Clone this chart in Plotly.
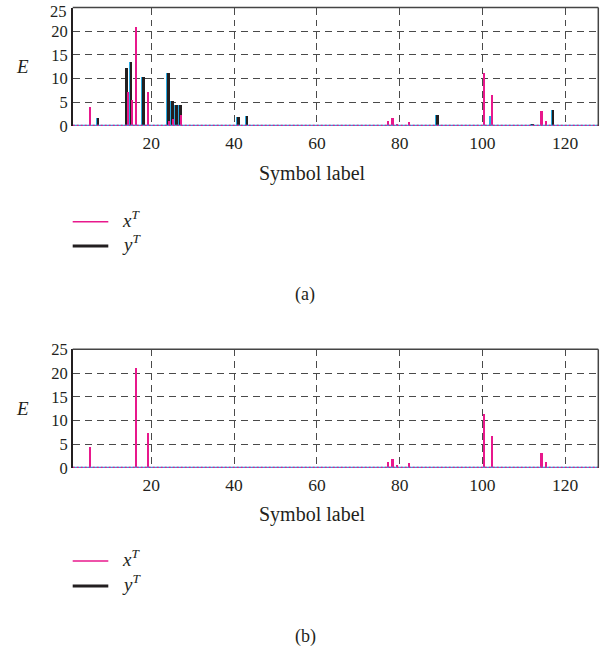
import plotly.graph_objects as go

# ---- data -------------------------------------------------------------
n_symbols = 128
x_ticks = [20, 40, 60, 80, 100, 120]
y_ticks = [0, 5, 10, 15, 20, 25]

# panel (a)
xa_idx = [5, 14, 15, 16, 19, 24, 25, 27, 77, 78, 79, 82, 100, 102, 114, 115]
xa_val = [4.2, 7.3, 5.5, 20.9, 7.3, 1.1, 1.5, 2.5, 1.1, 1.8, 0.5, 1.0, 11.2, 6.6, 3.2, 1.1]
ya_idx = [7, 14, 15, 18, 24, 25, 26, 27, 41, 43, 89, 112, 117]
ya_val = [1.7, 12.4, 13.7, 10.4, 11.2, 5.4, 4.5, 4.5, 2.1, 2.3, 2.5, 0.6, 3.5]
za_idx = [7, 14, 15, 18, 24, 25, 26, 27, 41, 43, 89, 102, 112, 117]
za_val = [1.7, 12.4, 13.7, 10.4, 11.2, 5.4, 4.5, 4.5, 2.1, 2.3, 2.5, 2.3, 0.6, 3.5]

# panel (b)
xb_idx = [5, 16, 19, 77, 78, 79, 82, 100, 102, 114, 115]
xb_val = [4.3, 21.0, 7.3, 1.2, 1.9, 0.5, 0.9, 11.3, 6.7, 3.2, 1.2]

PINK = "#e8188c"
BLACK = "#231f20"
CYAN = "#2aa9df"
GRID = "#4a4a4a"
SERIF = "Liberation Serif"

W, H = 610, 653


def px(v):
    return v / W


def py(v):
    return 1 - v / H


fig = go.Figure()


def add_panel(xs, ys, xv, yv, zi, zv, xref, yref):
    # third series sits slightly left, behind the black bars
    if zi:
        fig.add_trace(go.Bar(x=zi, y=zv, width=0.2, offset=-0.42,
                             marker=dict(color=CYAN, line_width=0),
                             xaxis=xref, yaxis=yref, showlegend=False))
    if xv:
        fig.add_trace(go.Bar(x=xv, y=yv, width=0.64, offset=-0.32,
                             marker=dict(color=BLACK, line_width=0),
                             xaxis=xref, yaxis=yref, showlegend=False))
    fig.add_trace(go.Bar(x=xs, y=ys, width=0.5, offset=-0.05,
                         marker=dict(color=PINK, line_width=0),
                         xaxis=xref, yaxis=yref, showlegend=False))
    # zero-height baseline of all symbols
    base_x = list(range(1, n_symbols + 1))
    base_y = [0] * n_symbols
    fig.add_trace(go.Scatter(x=base_x, y=base_y, mode="lines",
                             line=dict(color=CYAN, width=2.5),
                             cliponaxis=False, xaxis=xref, yaxis=yref,
                             showlegend=False, hoverinfo="skip"))
    fig.add_trace(go.Scatter(x=base_x, y=base_y, mode="lines",
                             line=dict(color=PINK, width=2.5, dash="2px,2px"),
                             cliponaxis=False, xaxis=xref, yaxis=yref,
                             showlegend=False, hoverinfo="skip"))


add_panel(xa_idx, xa_val, ya_idx, ya_val, za_idx, za_val, "x", "y")
add_panel(xb_idx, xb_val, [], [], [], [], "x2", "y2")

X0, X1 = 72.7, 598.3
PANELS = [(7.5, 126.0), (349.3, 468.0)]

xdom = [px(X0), px(X1)]
ax_common = dict(range=[1, 128], tickvals=x_ticks, showgrid=True,
                 gridcolor=GRID, gridwidth=1.2, griddash="7px,5px",
                 zeroline=False, showline=False, ticks="", automargin=False,
                 ticklabelstandoff=4, ticklabeloverflow="allow",
                 tickfont=dict(family=SERIF, size=17.5, color=BLACK),
                 domain=xdom)
ay_common = dict(range=[0, 25], tickvals=y_ticks, showgrid=True,
                 gridcolor=GRID, gridwidth=1.2, griddash="7px,5px",
                 zeroline=False, showline=True, linecolor=BLACK, linewidth=1.5,
                 ticks="", automargin=False, ticklabeloverflow="allow",
                 tickfont=dict(family=SERIF, size=16.5, color=BLACK))

# the top panel's highest label sits at the page edge, so it is written
# as a separate note kept inside the page
top_ticktext = [str(v) for v in y_ticks[:-1]] + [""]

fig.update_layout(
    width=W, height=H, margin=dict(l=0, r=0, t=0, b=0, autoexpand=False),
    paper_bgcolor="white", plot_bgcolor="white",
    barmode="overlay", bargap=0,
    xaxis=dict(**ax_common, anchor="y"),
    yaxis=dict(**ay_common, ticktext=top_ticktext,
               domain=[py(PANELS[0][1]), py(PANELS[0][0])], anchor="x"),
    xaxis2=dict(**ax_common, anchor="y2"),
    yaxis2=dict(**ay_common, domain=[py(PANELS[1][1]), py(PANELS[1][0])], anchor="x2"),
)

shapes = []
annotations = []
for top_px, bot_px in PANELS:
    # top and right frame lines
    shapes.append(dict(type="line", xref="paper", yref="paper",
                       x0=px(X0), x1=px(X1), y0=py(top_px), y1=py(top_px),
                       line=dict(color="#444", width=1.5)))
    shapes.append(dict(type="line", xref="paper", yref="paper",
                       x0=px(X1), x1=px(X1), y0=py(bot_px), y1=py(top_px),
                       line=dict(color="#444", width=1.5)))


def note(text, x, y, size, xanchor="center", yanchor="middle"):
    annotations.append(dict(text=text, x=px(x), y=py(y), xref="paper", yref="paper",
                            xanchor=xanchor, yanchor=yanchor, showarrow=False,
                            font=dict(family=SERIF, size=size, color=BLACK)))


note(str(y_ticks[-1]), 69, 0, 16.5, "right", "top")

for top, leg1, leg2, cap, tag in ((0, 221.7, 246, 295, "(a)"),
                                  (341.5, 561, 586, 636, "(b)")):
    note("<i>E</i>", 22, top + 67, 19)
    note("Symbol label", 312, top + 173, 20)
    shapes.append(dict(type="line", xref="paper", yref="paper",
                       x0=px(72.7), x1=px(108.3), y0=py(leg1), y1=py(leg1),
                       line=dict(color=PINK, width=1.5)))
    shapes.append(dict(type="line", xref="paper", yref="paper",
                       x0=px(72.7), x1=px(108.3), y0=py(leg2), y1=py(leg2),
                       line=dict(color=BLACK, width=3)))
    note("<i>x</i><sup><i>T</i></sup>", 120, leg1 - 3, 19, "left")
    note("<i>y</i><sup><i>T</i></sup>", 120, leg2 - 3, 19, "left")
    note(tag, 305, cap, 18)

fig.update_layout(shapes=shapes, annotations=annotations)
fig.write_html("out.html")
